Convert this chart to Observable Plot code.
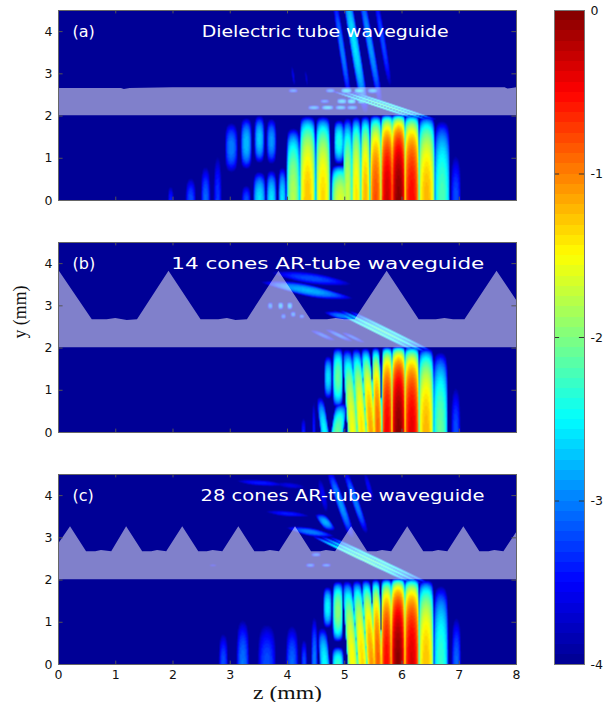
<!DOCTYPE html>
<html>
<head>
<meta charset="utf-8">
<script src="https://cdn.jsdelivr.net/npm/d3@7"></script>
<script src="https://cdn.jsdelivr.net/npm/@observablehq/plot@0.6"></script>
<style>
html,body{margin:0;padding:0;background:#fff}
#chart{position:relative;width:604px;height:702px;overflow:hidden}
#chart svg{position:absolute;left:0;overflow:visible;background:transparent}
</style>
</head>
<body>
<div id="chart"></div>
<script>
// Colour map (log10 of intensity)
const jetDomain = [-4, -3.5, -2.5, -1.5, -0.5, 0];
const jetColors = ["#00008f", "#0000ff", "#00ffff", "#ffff00", "#ff0000", "#800000"];
const xTicks = [0, 1, 2, 3, 4, 5, 6, 7, 8];
const yTicks = [0, 1, 2, 3, 4];
const barTicks = [-1, -2, -3];
const barLabels = [0, -1, -2, -3, -4];
const colorLevels = 64;

// Field lobes: [z, half width, y centre, half height, peak log10, lean dz/dy]
const lobesA = [
  [1.96,.06,0,.5,-3.4,0],[2.31,.1,0,.72,-3.2,0],[2.57,.09,0,1.05,-3.1,0],[2.78,.08,0,1.5,-3.3,0],
  [3.02,.12,1.25,.74,-3.0,0],[3.28,.1,1.35,.72,-2.75,0],[3.51,.09,1.45,.66,-2.7,0],[3.72,.09,1.4,.66,-2.9,0],
  [3.28,.09,0,.48,-3.2,0],[3.51,.11,0,.78,-2.6,0],[3.72,.09,0,.82,-2.6,0],[3.91,.07,0,.9,-2.6,0],
  [4.1,.115,0,1.8,-1.8,0],[4.35,.135,0,2.05,-1.25,0],[4.62,.125,0,2.05,-1.35,0],
  [4.9,.09,1.38,.58,-2.4,0],[4.92,.15,0,.88,-1.65,0],
  [5.05,.08,0,2.05,-1.7,0],[5.2,.08,0,2.05,-1.4,0],[5.36,.08,0,2.05,-1.2,0],[5.54,.1,0,2.05,-.8,0],
  [5.74,.105,0,2.05,-.3,0],[5.94,.115,0,2.05,-.03,0],[6.17,.125,0,2.05,-.5,0],[6.43,.14,0,2.05,-1.2,0],
  [6.7,.14,0,2.05,-2.2,0],[6.94,.1,0,1.45,-3.2,0],
  // beams above the tube
  [4.95,.06,3.6,1.6,-3.0,-.11],[5.17,.085,3.7,1.9,-2.6,-.12],[5.44,.07,3.7,1.8,-2.9,-.13],[5.66,.06,3.8,1.5,-3.2,-.12],
  [4.1,.035,2.95,.42,-3.6,-.1],[4.33,.035,2.9,.38,-3.7,-.1],
  // streaks and dots inside the tube
  [5.55,.07,2.25,.38,-2.3,-2.2],[5.7,.07,2.25,.38,-2.2,-2.2],[5.84,.07,2.25,.38,-2.4,-2.2],
  [4.1,.09,2.6,.07,-3.1,0],[4.75,.09,2.6,.07,-3,0],[5.03,.1,2.6,.08,-2.6,0],[5.26,.1,2.6,.08,-2.6,0],[5.49,.1,2.6,.08,-2.8,0],
  [4.65,.09,2.35,.07,-3.1,0],[4.95,.09,2.35,.08,-2.7,0],[5.12,.08,2.35,.08,-2.6,0],[5.3,.08,2.35,.08,-2.7,0],
  [4.46,.11,2.2,.07,-2.9,0],[4.7,.11,2.2,.07,-2.7,0],[4.93,.1,2.2,.07,-2.8,0],[5.13,.1,2.2,.07,-2.9,0]
];
const lobesB = [
  [4.28,.05,0,.52,-3.4,0],[4.46,.035,0,1.1,-3.4,0],
  [4.65,.075,0,.95,-2.5,-.1],[4.71,.07,1.3,.58,-2.6,0],[4.88,.09,1.3,.76,-2.1,0],[4.87,.11,0,.75,-2.1,.1],
  [5.14,.09,0,2.05,-1.55,-.05],[5.3,.085,0,2.05,-1.4,-.05],[5.46,.08,0,2.05,-1.15,-.05],[5.58,.07,0,2.05,-.9,-.02],
  [5.74,.09,0,2.05,-.45,0],[5.94,.115,0,2.05,-.03,0],[6.17,.125,0,2.05,-.4,0],[6.42,.13,0,2.05,-1.2,0],
  [6.67,.13,0,2.05,-2.1,0],[6.94,.09,0,1.45,-3.2,0],
  // blobs above the tube
  [4.34,.42,3.37,.27,-2.8,-2.5],[4.42,.5,3.65,.24,-3.2,-2.5],[4.95,.22,2.76,.14,-3.0,-1.6],[4.15,.18,4.3,.1,-3.9,-1.5],
  // streaks and dots inside the tube
  [5.55,.07,2.39,.55,-2.3,-1.48],[5.68,.07,2.39,.55,-2.2,-1.48],[5.81,.07,2.39,.55,-2.5,-1.48],
  [4.62,.1,2.3,.18,-3.2,-1.4],[4.9,.09,2.3,.2,-3.1,-1.4],[5.15,.08,2.25,.18,-3.2,-1.4],
  [3.7,.05,3.0,.11,-3,0],[3.88,.05,3.0,.11,-2.8,0],[4.04,.05,3.0,.11,-2.8,0],[3.93,.05,2.75,.09,-3.1,0],[4.1,.05,2.8,.09,-3,0],[4.25,.05,2.75,.07,-3.1,0]
];
const lobesC = [
  [2.88,.09,0,1.0,-3.2,0],[3.22,.12,0,1.35,-3.05,0],[3.64,.18,0,1.3,-3.2,0],[4.08,.12,0,1.2,-3.1,0],
  [4.29,.06,0,.8,-3.2,0],[4.47,.06,0,1.42,-3.0,0],[4.65,.09,0,.98,-2.5,-.05],
  [4.7,.075,1.35,.55,-2.5,0],[4.88,.09,1.25,.76,-1.95,0],[4.88,.1,0,.46,-2.3,0],
  [5.14,.09,0,2.05,-1.5,-.05],[5.31,.085,0,2.05,-1.35,-.05],[5.47,.08,0,2.05,-1.1,-.05],[5.58,.07,0,2.05,-.85,-.02],
  [5.73,.09,0,2.05,-.5,0],[5.93,.115,0,2.05,-.03,0],[6.17,.125,0,2.05,-.35,0],[6.42,.13,0,2.05,-1.25,0],
  [6.68,.13,0,2.05,-2.3,0],[6.95,.09,0,1.45,-3.1,0],
  // beams and blobs above the tube
  [4.93,.08,3.8,1.0,-2.9,-.25],[5.19,.07,3.85,.95,-3.0,-.25],[4.62,.07,4.0,.65,-3.5,-.15],[5.42,.06,4.2,.55,-3.5,-.2],
  [4.66,.11,3.37,.24,-2.8,-.5],[4.4,.28,3.14,.16,-3.0,-2],[4.0,.35,3.57,.12,-3.4,-2.5],[3.53,.4,4.3,.12,-3.4,-2.5],[4.05,.3,4.24,.14,-3.6,-1.5],
  // streaks and dots inside the tube
  [5.34,.07,2.47,.62,-2.2,-1.55],[5.47,.07,2.47,.62,-2.2,-1.55],[5.6,.07,2.47,.62,-2.4,-1.55],
  [4.4,.09,2.35,.07,-3.1,0],[4.5,.09,2.6,.07,-3.1,0],[4.68,.09,2.35,.06,-3.1,0],[2.7,.09,2.35,.06,-3.6,0]
];

// Tube outlines: [z, y of the outer wall]
const outlineA = [[0,2.65],[1.1,2.65],[1.15,2.63],[1.25,2.65],[2,2.67],[4,2.67],[5.5,2.67],[7.8,2.67],[7.85,2.64],[7.95,2.66],[8,2.67]];
const outlineB = [[0,3.85],[.59,2.67],[.85,2.67],[1,2.7],[1.2,2.65],[1.38,2.67],[1.93,3.82],[2.49,2.67],[2.8,2.67],[2.95,2.7],[3.1,2.65],[3.3,2.67],[3.85,3.82],[4.41,2.67],[4.7,2.67],[4.85,2.7],[5.0,2.67],[5.18,2.67],[5.74,3.82],[6.3,2.67],[6.6,2.67],[6.75,2.7],[6.9,2.67],[7.1,2.67],[7.66,3.82],[8,3.13]];
const outlineC = [[0,2.85],[.21,3.26],[.49,2.67],[.65,2.67],[.75,2.7],[.93,2.67],[1.19,3.26],[1.47,2.67],[1.63,2.67],[1.73,2.7],[1.89,2.67],[2.17,3.26],[2.45,2.67],[2.6,2.67],[2.7,2.7],[2.87,2.67],[3.15,3.26],[3.43,2.67],[3.6,2.67],[3.7,2.7],[3.86,2.67],[4.14,3.26],[4.42,2.67],[4.58,2.67],[4.68,2.7],[4.84,2.67],[5.12,3.26],[5.4,2.67],[5.56,2.67],[5.66,2.7],[5.82,2.67],[6.1,3.26],[6.38,2.67],[6.54,2.67],[6.64,2.7],[6.8,2.67],[7.08,3.26],[7.36,2.67],[7.52,2.67],[7.62,2.7],[7.78,2.67],[8,3.12]];

const tagA = "(a)", tagB = "(b)", tagC = "(c)";
const titleA = "Dielectric tube waveguide";
const titleB = "14 cones AR-tube waveguide";
const titleC = "28 cones AR-tube waveguide";
const titleZ = [2.5, 1.97, 2.48];
const titleWidths = [247, 313, 284];
const tagZ = 0.245, labelY = 4.0;
const xAxisName = "z (mm)", yAxisName = "y (mm)";
const xAxisWidth = 69, yAxisWidth = 53;

const sans = "'DejaVu Sans', sans-serif";
const serif = "'Liberation Serif', serif";
const tickColor = "#555";
const colorScale = {type: "linear", domain: jetDomain, range: jetColors, clamp: true};

function sampler(lobes) {
  return (z, y) => {
    let best = 1e-4;
    for (const [z0, w, yc, yh, p, lean] of lobes) {
      const ty = (y - yc) / yh;
      if (ty <= -1 || ty >= 1) continue;
      const tz = (z - (z0 + lean * (y - yc))) / w;
      if (tz <= -1 || tz >= 1) continue;
      const cz = Math.cos(Math.PI / 2 * tz), cy = Math.cos(Math.PI / 2 * ty);
      const v = Math.pow(10, p) * cz * cy * cy;
      if (v > best) best = v;
    }
    // quantised to the colour bar's levels
    const step = 4 / colorLevels;
    return Math.floor(Math.log10(best) / step) * step + step / 2;
  };
}

// The reference's lettering is stretched sideways: fit a text to its measured width.
function fitText(plot, content, width) {
  for (const t of plot.querySelectorAll("text")) {
    if (t.textContent === content) {
      t.setAttribute("textLength", width);
      t.setAttribute("lengthAdjust", "spacingAndGlyphs");
    }
  }
}

function panel({lobes, outline, tag, title, titleX, titleWidth, top, last, mid}) {
  const plot = Plot.plot({
    width: 530, height: last ? 246 : 206,
    marginLeft: 58, marginRight: 14, marginTop: 10, marginBottom: last ? 46 : 6,
    x: {domain: [0, 8], axis: null},
    y: {domain: [0, 4.5], axis: null},
    color: colorScale,
    marks: [
      Plot.raster({fill: sampler(lobes), x1: 0, x2: 8, y1: 0, y2: 4.5, pixelSize: 1}),
      Plot.areaY(outline, {x: d => d[0], y1: 2.01, y2: d => d[1], fill: "white", fillOpacity: 0.5}),
      Plot.ruleX(xTicks, {y1: 0, y2: 0.08, stroke: tickColor}),
      Plot.ruleX(xTicks, {y1: 4.42, y2: 4.5, stroke: tickColor}),
      Plot.ruleY(yTicks, {x1: 0, x2: 0.08, stroke: tickColor}),
      Plot.ruleY(yTicks, {x1: 7.92, x2: 8, stroke: tickColor}),
      Plot.frame({stroke: "#666"}),
      Plot.axisY(yTicks, {tickSize: 0, tickPadding: 6, fontSize: 12.5, fontFamily: sans, fill: "#111", label: null}),
      last ? Plot.axisX(xTicks, {tickSize: 0, tickPadding: 6, fontSize: 12.5, fontFamily: sans, fill: "#111", label: null}) : null,
      last ? Plot.text([xAxisName], {frameAnchor: "bottom", dy: 34, fontFamily: serif, fontSize: 18, fill: "#111"}) : null,
      mid ? Plot.text([yAxisName], {frameAnchor: "left", dx: -38, dy: 1, rotate: -90, fontFamily: serif, fontSize: 18, fill: "#111"}) : null,
      Plot.text([tag], {x: () => tagZ, y: () => labelY, textAnchor: "start", fill: "white", fontSize: 16, fontFamily: sans}),
      Plot.text([title], {x: () => titleX, y: () => labelY, textAnchor: "start", fill: "white", fontSize: 16, fontFamily: sans})
    ]
  });
  fitText(plot, title, titleWidth);
  if (last) fitText(plot, xAxisName, xAxisWidth);
  if (mid) fitText(plot, yAxisName, yAxisWidth);
  plot.style.top = top + "px";
  return plot;
}

const chart = document.getElementById("chart");
chart.append(panel({lobes: lobesA, outline: outlineA, tag: tagA, title: titleA, titleX: titleZ[0], titleWidth: titleWidths[0], top: 0}));
chart.append(panel({lobes: lobesB, outline: outlineB, tag: tagB, title: titleB, titleX: titleZ[1], titleWidth: titleWidths[1], top: 232, mid: true}));
chart.append(panel({lobes: lobesC, outline: outlineC, tag: tagC, title: titleC, titleX: titleZ[2], titleWidth: titleWidths[2], top: 464, last: true}));

// Colour bar
const levelIndex = d3.range(colorLevels);
const barPlot = Plot.plot({
  width: 50, height: 674,
  marginLeft: 0, marginRight: 20, marginTop: 10, marginBottom: 10,
  x: {domain: [0, 1], axis: null},
  y: {domain: [-4, 0], axis: null},
  color: colorScale,
  marks: [
    Plot.rect(levelIndex, {
      x1: 0, x2: 1,
      y1: i => -4 + 4 * i / colorLevels,
      y2: i => -4 + 4 * (i + 1) / colorLevels,
      fill: i => -4 + 4 * (i + 0.5) / colorLevels,
      shapeRendering: "crispEdges"
    }),
    Plot.ruleY(barTicks, {x1: 0, x2: 0.17, stroke: "#333"}),
    Plot.ruleY(barTicks, {x1: 0.83, x2: 1, stroke: "#333"}),
    Plot.frame({stroke: "#777"}),
    Plot.text(barLabels, {x: () => 1, y: d => d, dx: 6, textAnchor: "start", text: d => String(d), fontSize: 12.5, fontFamily: sans, fill: "#111"})
  ]
});
barPlot.style.left = "554px";
barPlot.style.top = "0px";
chart.append(barPlot);
</script>
</body>
</html>
